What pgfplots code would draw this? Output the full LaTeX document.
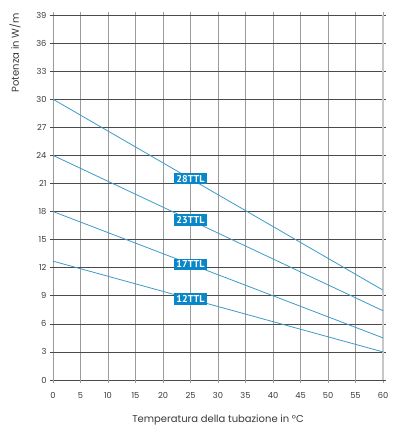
\documentclass[border=0pt]{standalone}
\usepackage{fontspec}
\setmainfont{Poppins}
\newfontfamily\boxfont{PT Sans}
\usepackage{pgfplots}
\pgfplotsset{compat=1.18}
\usetikzlibrary{calc}
\definecolor{lineblue}{HTML}{3D9AC8}
\definecolor{boxblue}{HTML}{0A87C9}
\definecolor{vgrid}{HTML}{9C9C9C}
\definecolor{hgrid}{HTML}{4A4A4A}
\definecolor{txt}{HTML}{3A3A3A}
\tikzset{boxlab/.style={fill=boxblue, text=white, inner xsep=2pt, inner ysep=2pt,
    font=\boxfont\bfseries\fontsize{10}{10}\selectfont}}
\begin{document}
\begin{tikzpicture}
\begin{axis}[name=ax, at={(0,0)}, anchor=south west,
  scale only axis, width=330pt, height=365pt,
  xmin=0, xmax=60, ymin=0, ymax=39,
  xtick={0,5,...,60}, ytick={0,3,...,39},
  grid=major,
  x grid style={draw=vgrid, line width=1pt},
  y grid style={draw=hgrid, line width=0.6pt},
  axis line style={draw=none},
  tick align=outside,
  major tick length=3pt,
  xtick style={draw=vgrid, line width=1pt},
  ytick style={draw=hgrid, line width=0.6pt},
  tick label style={font=\fontsize{8.3}{9}\selectfont, text=txt},
  xticklabel style={yshift=-6pt},
  /pgf/number format/assume math mode=true,
  clip=false,
]
\draw[black!22, line width=2pt] (axis cs:60,0) -- (axis cs:60,39);
\addplot[lineblue, line width=0.8pt] coordinates {(0,30) (60,9.6)}
  node[pos=0.4167, boxlab] {28TTL};
\addplot[lineblue, line width=0.8pt] coordinates {(0,24) (60,7.4)}
  node[pos=0.4167, boxlab] {23TTL};
\addplot[lineblue, line width=0.8pt] coordinates {(0,18) (60,4.5)}
  node[pos=0.4167, boxlab] {17TTL};
\addplot[lineblue, line width=0.8pt] coordinates {(0,12.7) (60,3.0)}
  node[pos=0.4167, boxlab] {12TTL};
\end{axis}
\node[rotate=90, text=txt, font=\fontsize{10}{10}\selectfont]
  at ($(ax.south west)!0.896!(ax.north west) + (-38pt,0)$) {Potenza in W/m};
\node[text=txt, font=\fontsize{10}{10}\selectfont]
  at ($(ax.south) + (0,-40pt)$) {Temperatura della tubazione in °C};
\pgfresetboundingbox
\path[use as bounding box] ($(ax.south west)+(-53pt,-50pt)$) rectangle ($(ax.north east)+(17pt,15pt)$);
\end{tikzpicture}
\end{document}
